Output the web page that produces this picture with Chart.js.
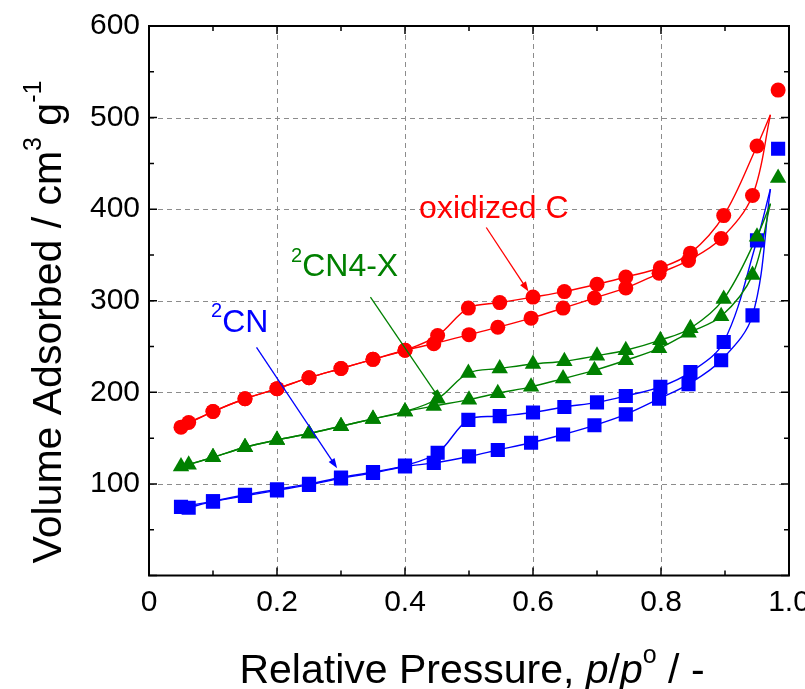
<!DOCTYPE html>
<html>
<head>
<meta charset="utf-8">
<script src="https://cdn.jsdelivr.net/npm/chart.js@4.4.0/dist/chart.umd.min.js"></script>
<style>
  html, body { margin: 0; padding: 0; background: #fff; }
  #wrap { width: 805px; height: 689px; }
</style>
</head>
<body>
<div id="wrap"><canvas id="myChart" width="805" height="689"></canvas></div>
<script>
// relative pressure p/p0 for the two branches
var pAds = [0.05, 0.10, 0.15, 0.20, 0.25, 0.30, 0.35, 0.40, 0.445, 0.50, 0.545, 0.597, 0.647, 0.696, 0.745, 0.797, 0.843, 0.894, 0.943, 0.983];
var pDes = [0.95, 0.898, 0.846, 0.799, 0.745, 0.70, 0.649, 0.60, 0.548, 0.499, 0.451, 0.40, 0.35, 0.30, 0.25, 0.20, 0.15, 0.10, 0.062];
var pTop = 0.971; // where the drawn curves close the loop

// volume adsorbed, cm3/g
var oxAds = [162, 179, 193, 204, 216, 226, 236, 246, 253, 263, 271, 281, 292, 303, 314, 330, 344, 368, 415, 530];
var oxDes = [469, 393, 352, 336, 326, 318, 310, 304, 298, 292, 262, 246, 236, 226, 216, 204, 193, 179, 167];
var oxTop = 503;

var cn4Ads = [119, 129, 140, 148, 155, 163, 171, 179, 185, 192, 199, 206, 215, 224, 235, 248, 265, 283, 328, 434];
var cn4Des = [370, 302, 270, 257, 246, 240, 234, 231, 226, 221, 193, 179, 171, 163, 155, 148, 140, 129, 121];
var cn4Top = 406;

var cnAds = [75, 81, 87, 93, 99, 106, 112, 119, 123, 130, 137, 145, 154, 164, 176, 193, 209, 235, 284, 466];
var cnDes = [366, 255, 222, 206, 196, 189, 184, 178, 174, 170, 134, 120, 113, 107, 100, 94, 88, 81, 74];
var cnTop = 422;

var xTicks = [0, 0.2, 0.4, 0.6, 0.8, 1.0];
var xTickLabels = ["0", "0.2", "0.4", "0.6", "0.8", "1.0"];
var yTicks = [100, 200, 300, 400, 500, 600];

var FONT = "'Liberation Sans', Arial, sans-serif";

function pts(xs, ys) {
  return xs.map(function (x, i) { return { x: x, y: ys[i] }; });
}
// curve for the adsorption branch: markers up to 0.95, then the top of the loop
function adsCurve(ys, top) {
  var d = pts(pAds.slice(0, -1), ys.slice(0, -1));
  d.push({ x: pTop, y: top });
  return d;
}
function desCurve(ys, top) {
  return [{ x: pTop, y: top }].concat(pts(pDes, ys));
}

function markers(label, xs, ys, color, style, r) {
  return {
    label: label, data: pts(xs, ys), showLine: false,
    pointStyle: style, pointRadius: r, pointHoverRadius: r,
    pointBackgroundColor: color, pointBorderColor: color, pointBorderWidth: 0,
    order: 1
  };
}
function curve(data, color) {
  return {
    data: data, borderColor: color, borderWidth: 1.4, pointRadius: 0,
    tension: 0.35, fill: false, order: 2
  };
}

var RED = "#ff0000", GREEN = "#008000", BLUE = "#0000ff";

// text notes with arrows, placed in data units
var notes = [
  { sup: "", text: "oxidized C", color: RED, at: [0.422, 390], from: [0.527, 380], to: [0.593, 310] },
  { sup: "2", text: "CN4-X", color: GREEN, at: [0.222, 327], from: [0.346, 304], to: [0.455, 192] },
  { sup: "2", text: "CN", color: BLUE, at: [0.097, 266], from: [0.168, 249], to: [0.294, 117] }
];

function richText(ctx, parts, size) {
  var w = 0;
  parts.forEach(function (p) {
    ctx.font = (p.it ? "italic " : "") + Math.round(size * (p.s || 1)) + "px " + FONT;
    p.w = ctx.measureText(p.t).width;
    w += p.w;
  });
  return w;
}
function drawRich(ctx, parts, size, x, y) {
  parts.forEach(function (p) {
    ctx.font = (p.it ? "italic " : "") + Math.round(size * (p.s || 1)) + "px " + FONT;
    ctx.fillText(p.t, x, y - (p.up || 0) * size);
    x += p.w;
  });
}

var framePlugin = {
  id: "frame",
  beforeDatasetsDraw: function (chart) {
    var ctx = chart.ctx, a = chart.chartArea;
    var xs = chart.scales.x, ys = chart.scales.y;
    ctx.save();
    ctx.strokeStyle = "#8c8c8c";
    ctx.lineWidth = 1;
    ctx.setLineDash([5, 4]);
    xTicks.forEach(function (v) {
      if (v <= 0 || v >= 1) return;
      var px = Math.round(xs.getPixelForValue(v)) + 0.5;
      ctx.beginPath(); ctx.moveTo(px, a.top); ctx.lineTo(px, a.bottom); ctx.stroke();
    });
    yTicks.forEach(function (v) {
      if (v >= 600) return;
      var py = Math.round(ys.getPixelForValue(v)) + 0.5;
      ctx.beginPath(); ctx.moveTo(a.left, py); ctx.lineTo(a.right, py); ctx.stroke();
    });
    ctx.restore();
  },
  afterDatasetsDraw: function (chart) {
    var ctx = chart.ctx, a = chart.chartArea;
    var xs = chart.scales.x, ys = chart.scales.y;
    ctx.save();
    ctx.strokeStyle = "#000";
    ctx.lineWidth = 2;
    ctx.strokeRect(a.left, a.top, a.right - a.left, a.bottom - a.top);
    ctx.lineWidth = 1.5;
    // inward ticks on all four sides
    for (var i = 0; i <= 10; i++) {
      var v = i / 10, L = (i % 2 === 0) ? 8 : 5;
      var px = xs.getPixelForValue(v);
      ctx.beginPath();
      ctx.moveTo(px, a.bottom); ctx.lineTo(px, a.bottom - L);
      ctx.moveTo(px, a.top); ctx.lineTo(px, a.top + L);
      ctx.stroke();
    }
    for (var j = 0; j <= 12; j++) {
      var w = j * 50, M = (j % 2 === 0) ? 8 : 5;
      var py = ys.getPixelForValue(w);
      ctx.beginPath();
      ctx.moveTo(a.left, py); ctx.lineTo(a.left + M, py);
      ctx.moveTo(a.right, py); ctx.lineTo(a.right - M, py);
      ctx.stroke();
    }

    // notes
    notes.forEach(function (n) {
      ctx.fillStyle = n.color;
      ctx.strokeStyle = n.color;
      ctx.textBaseline = "alphabetic";
      ctx.textAlign = "left";
      var tx = xs.getPixelForValue(n.at[0]), ty = ys.getPixelForValue(n.at[1]);
      var parts = [];
      if (n.sup) parts.push({ t: n.sup, s: 0.62, up: 0.45 });
      parts.push({ t: n.text });
      richText(ctx, parts, 32);
      drawRich(ctx, parts, 32, tx, ty);

      var x1 = xs.getPixelForValue(n.from[0]), y1 = ys.getPixelForValue(n.from[1]);
      var x2 = xs.getPixelForValue(n.to[0]), y2 = ys.getPixelForValue(n.to[1]);
      var ang = Math.atan2(y2 - y1, x2 - x1), hl = 10, hw = 3.5;
      ctx.lineWidth = 1.3;
      ctx.beginPath();
      ctx.moveTo(x1, y1);
      ctx.lineTo(x2 - Math.cos(ang) * hl * 0.8, y2 - Math.sin(ang) * hl * 0.8);
      ctx.stroke();
      ctx.beginPath();
      ctx.moveTo(x2, y2);
      ctx.lineTo(x2 - Math.cos(ang) * hl - Math.sin(ang) * hw, y2 - Math.sin(ang) * hl + Math.cos(ang) * hw);
      ctx.lineTo(x2 - Math.cos(ang) * hl + Math.sin(ang) * hw, y2 - Math.sin(ang) * hl - Math.cos(ang) * hw);
      ctx.closePath();
      ctx.fill();
    });

    // axis titles
    ctx.fillStyle = "#000";
    var xt = [{ t: "Relative Pressure, " }, { t: "p", it: true }, { t: "/" }, { t: "p", it: true },
              { t: "o", s: 0.6, up: 0.5 }, { t: " / -" }];
    var wx = richText(ctx, xt, 41);
    drawRich(ctx, xt, 41, (a.left + a.right) / 2 - wx / 2 + 3, 683);

    var yt = [{ t: "Volume Adsorbed / cm" }, { t: "3", s: 0.6, up: 0.5 }, { t: " g" }, { t: "-1", s: 0.6, up: 0.5 }];
    var wy = richText(ctx, yt, 41);
    ctx.translate(61, 322);
    ctx.rotate(-Math.PI / 2);
    drawRich(ctx, yt, 41, -wy / 2, 0);
    ctx.restore();
  }
};

var ctx = document.getElementById("myChart");
var myChart = new Chart(ctx, {
  type: "line",
  data: {
    datasets: [
      markers("oxidized C ads", pAds, oxAds, RED, "circle", 7.5),
      markers("oxidized C des", pDes, oxDes, RED, "circle", 7.5),
      markers("2CN4-X ads", pAds, cn4Ads, GREEN, "triangle", 9.5),
      markers("2CN4-X des", pDes, cn4Des, GREEN, "triangle", 9.5),
      markers("2CN ads", pAds, cnAds, BLUE, "rect", 10),
      markers("2CN des", pDes, cnDes, BLUE, "rect", 10),
      curve(adsCurve(oxAds, oxTop), RED),
      curve(desCurve(oxDes, oxTop), RED),
      curve(adsCurve(cn4Ads, cn4Top), GREEN),
      curve(desCurve(cn4Des, cn4Top), GREEN),
      curve(adsCurve(cnAds, cnTop), BLUE),
      curve(desCurve(cnDes, cnTop), BLUE)
    ]
  },
  options: {
    responsive: false,
    animation: false,
    layout: { padding: { top: 26, right: 16, left: 0, bottom: 0 } },
    plugins: { legend: { display: false }, tooltip: { enabled: false } },
    scales: {
      x: {
        type: "linear", min: 0, max: 1,
        grid: { display: false, drawTicks: false },
        border: { display: false },
        afterBuildTicks: function (s) { s.ticks = xTicks.map(function (v) { return { value: v }; }); },
        ticks: {
          color: "#000", padding: 9, maxRotation: 0, autoSkip: false,
          font: { family: FONT, size: 30 },
          callback: function (v, i) { return xTickLabels[i]; }
        },
        afterFit: function (s) { s.height = 689 - 575.5; s.paddingLeft = 0; s.paddingRight = 0; }
      },
      y: {
        type: "linear", min: 0, max: 600,
        grid: { display: false, drawTicks: false },
        border: { display: false },
        afterBuildTicks: function (s) { s.ticks = yTicks.map(function (v) { return { value: v }; }); },
        ticks: {
          color: "#000", padding: 9, autoSkip: false,
          font: { family: FONT, size: 30 },
          callback: function (v) { return String(v); }
        },
        afterFit: function (s) { s.width = 149; s.paddingTop = 0; s.paddingBottom = 0; }
      }
    }
  },
  plugins: [framePlugin]
});
</script>
</body>
</html>
